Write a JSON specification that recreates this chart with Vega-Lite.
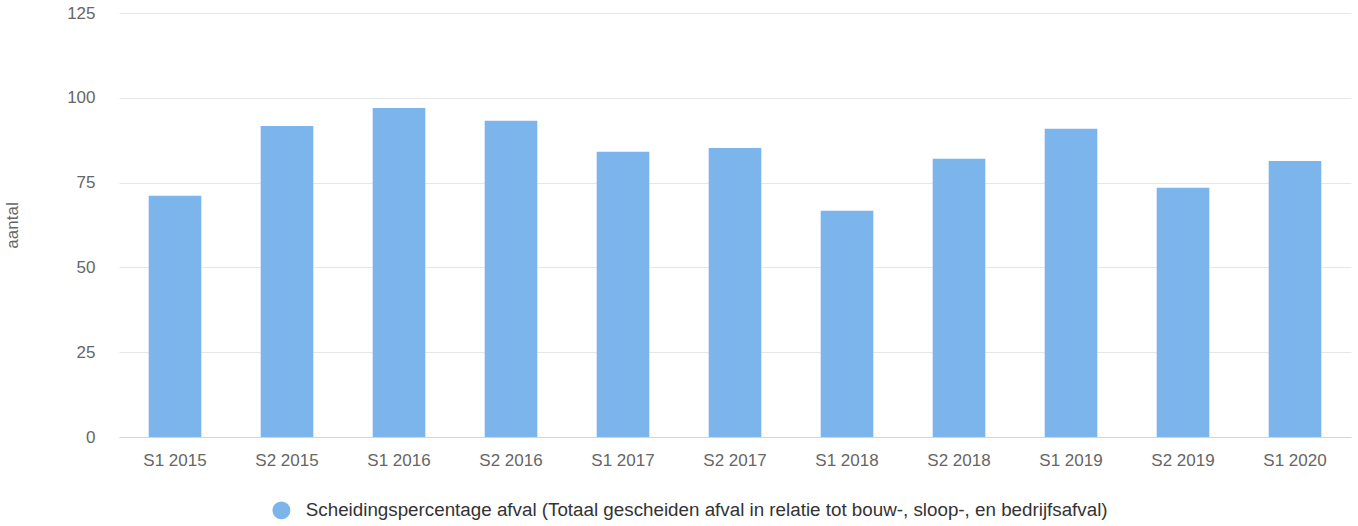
{
  "$schema": "https://vega.github.io/schema/vega-lite/v6.json",
  "width": 1232,
  "height": 424,
  "autosize": {"type": "none"},
  "padding": {"left": 119, "top": 13, "right": 7, "bottom": 89},
  "data": {
    "values": [
      {"periode": "S1 2015", "waarde": 71.1, "serie": "Scheidingspercentage afval (Totaal gescheiden afval in relatie tot bouw-, sloop-, en bedrijfsafval)"},
      {"periode": "S2 2015", "waarde": 91.7, "serie": "Scheidingspercentage afval (Totaal gescheiden afval in relatie tot bouw-, sloop-, en bedrijfsafval)"},
      {"periode": "S1 2016", "waarde": 97.0, "serie": "Scheidingspercentage afval (Totaal gescheiden afval in relatie tot bouw-, sloop-, en bedrijfsafval)"},
      {"periode": "S2 2016", "waarde": 93.2, "serie": "Scheidingspercentage afval (Totaal gescheiden afval in relatie tot bouw-, sloop-, en bedrijfsafval)"},
      {"periode": "S1 2017", "waarde": 84.1, "serie": "Scheidingspercentage afval (Totaal gescheiden afval in relatie tot bouw-, sloop-, en bedrijfsafval)"},
      {"periode": "S2 2017", "waarde": 85.2, "serie": "Scheidingspercentage afval (Totaal gescheiden afval in relatie tot bouw-, sloop-, en bedrijfsafval)"},
      {"periode": "S1 2018", "waarde": 66.7, "serie": "Scheidingspercentage afval (Totaal gescheiden afval in relatie tot bouw-, sloop-, en bedrijfsafval)"},
      {"periode": "S2 2018", "waarde": 82.0, "serie": "Scheidingspercentage afval (Totaal gescheiden afval in relatie tot bouw-, sloop-, en bedrijfsafval)"},
      {"periode": "S1 2019", "waarde": 90.9, "serie": "Scheidingspercentage afval (Totaal gescheiden afval in relatie tot bouw-, sloop-, en bedrijfsafval)"},
      {"periode": "S2 2019", "waarde": 73.5, "serie": "Scheidingspercentage afval (Totaal gescheiden afval in relatie tot bouw-, sloop-, en bedrijfsafval)"},
      {"periode": "S1 2020", "waarde": 81.4, "serie": "Scheidingspercentage afval (Totaal gescheiden afval in relatie tot bouw-, sloop-, en bedrijfsafval)"}
    ]
  },
  "mark": {"type": "bar"},
  "encoding": {
    "x": {
      "field": "periode",
      "type": "nominal",
      "sort": null,
      "scale": {"paddingInner": 0.53, "paddingOuter": 0.265},
      "axis": {
        "title": null,
        "labelAngle": 0,
        "labelFont": "Liberation Sans",
        "labelFontSize": 17,
        "labelColor": "#666666",
        "labelPadding": 15,
        "ticks": false,
        "domainColor": "#ccd6eb",
        "domainWidth": 1,
        "grid": false
      }
    },
    "y": {
      "field": "waarde",
      "type": "quantitative",
      "scale": {"domain": [0, 125], "nice": false},
      "axis": {
        "values": [0, 25, 50, 75, 100, 125],
        "title": "aantal",
        "titleFont": "Liberation Sans",
        "titleFontSize": 17,
        "titleFontWeight": "normal",
        "titleColor": "#666666",
        "titleX": -102,
        "titleY": 212,
        "titleAlign": "center",
        "titleAngle": -90,
        "titleBaseline": "alphabetic",
        "labelFont": "Liberation Sans",
        "labelFontSize": 17,
        "labelColor": "#666666",
        "labelPadding": 24,
        "ticks": false,
        "domain": false,
        "grid": true,
        "gridColor": "#e6e6e6",
        "gridWidth": 1
      }
    },
    "color": {
      "field": "serie",
      "type": "nominal",
      "scale": {"range": ["#7cb5ec"]},
      "legend": {
        "title": null,
        "orient": "none",
        "legendX": 153,
        "legendY": 488,
        "symbolType": "circle",
        "symbolSize": 320,
        "symbolStrokeWidth": 0,
        "symbolOpacity": 1,
        "labelFont": "Liberation Sans",
        "labelFontSize": 18.8,
        "labelColor": "#333333",
        "labelOffset": 15,
        "labelLimit": 1200
      }
    }
  },
  "config": {"view": {"stroke": null}}
}
